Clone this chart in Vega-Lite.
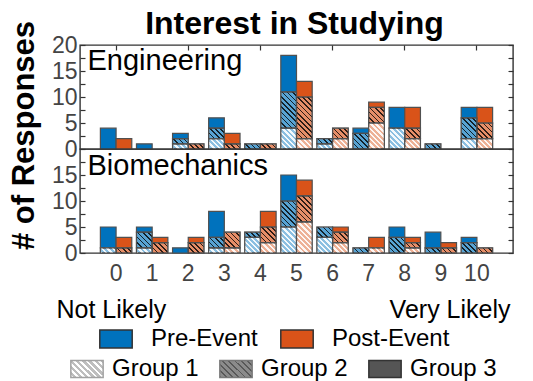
{
 "$schema": "https://vega.github.io/schema/vega-lite/v6.json",
 "padding": {"left": 7, "top": 7, "right": 5, "bottom": 5},
 "params": [
  {"name": "g1", "value": [null,
   {"gradient":"linear","x1":0,"y1":1,"x2":1.2,"y2":0.603,"stops":[{"offset":0,"color":"#ffffffe6"},{"offset":0.113,"color":"#ffffffe6"},{"offset":0.113,"color":"#ffffff00"},{"offset":0.25,"color":"#ffffff00"},{"offset":0.25,"color":"#ffffffe6"},{"offset":0.363,"color":"#ffffffe6"},{"offset":0.363,"color":"#ffffff00"},{"offset":0.5,"color":"#ffffff00"},{"offset":0.5,"color":"#ffffffe6"},{"offset":0.613,"color":"#ffffffe6"},{"offset":0.613,"color":"#ffffff00"},{"offset":0.75,"color":"#ffffff00"},{"offset":0.75,"color":"#ffffffe6"},{"offset":0.863,"color":"#ffffffe6"},{"offset":0.863,"color":"#ffffff00"}]},
   {"gradient":"linear","x1":0,"y1":1,"x2":1.155,"y2":0.235,"stops":[{"offset":0,"color":"#ffffffe6"},{"offset":0.09,"color":"#ffffffe6"},{"offset":0.09,"color":"#ffffff00"},{"offset":0.2,"color":"#ffffff00"},{"offset":0.2,"color":"#ffffffe6"},{"offset":0.29,"color":"#ffffffe6"},{"offset":0.29,"color":"#ffffff00"},{"offset":0.4,"color":"#ffffff00"},{"offset":0.4,"color":"#ffffffe6"},{"offset":0.49,"color":"#ffffffe6"},{"offset":0.49,"color":"#ffffff00"},{"offset":0.6,"color":"#ffffff00"},{"offset":0.6,"color":"#ffffffe6"},{"offset":0.69,"color":"#ffffffe6"},{"offset":0.69,"color":"#ffffff00"},{"offset":0.8,"color":"#ffffff00"},{"offset":0.8,"color":"#ffffffe6"},{"offset":0.89,"color":"#ffffffe6"},{"offset":0.89,"color":"#ffffff00"}]},
   {"gradient":"linear","x1":0,"y1":1,"x2":1.003,"y2":0.003,"stops":[{"offset":0,"color":"#ffffffe6"},{"offset":0.075,"color":"#ffffffe6"},{"offset":0.075,"color":"#ffffff00"},{"offset":0.167,"color":"#ffffff00"},{"offset":0.167,"color":"#ffffffe6"},{"offset":0.242,"color":"#ffffffe6"},{"offset":0.242,"color":"#ffffff00"},{"offset":0.333,"color":"#ffffff00"},{"offset":0.333,"color":"#ffffffe6"},{"offset":0.408,"color":"#ffffffe6"},{"offset":0.408,"color":"#ffffff00"},{"offset":0.5,"color":"#ffffff00"},{"offset":0.5,"color":"#ffffffe6"},{"offset":0.575,"color":"#ffffffe6"},{"offset":0.575,"color":"#ffffff00"},{"offset":0.667,"color":"#ffffff00"},{"offset":0.667,"color":"#ffffffe6"},{"offset":0.742,"color":"#ffffffe6"},{"offset":0.742,"color":"#ffffff00"},{"offset":0.833,"color":"#ffffff00"},{"offset":0.833,"color":"#ffffffe6"},{"offset":0.908,"color":"#ffffffe6"},{"offset":0.908,"color":"#ffffff00"}]},
   {"gradient":"linear","x1":0,"y1":1,"x2":0.844,"y2":-0.118,"stops":[{"offset":0,"color":"#ffffffe6"},{"offset":0.064,"color":"#ffffffe6"},{"offset":0.064,"color":"#ffffff00"},{"offset":0.143,"color":"#ffffff00"},{"offset":0.143,"color":"#ffffffe6"},{"offset":0.207,"color":"#ffffffe6"},{"offset":0.207,"color":"#ffffff00"},{"offset":0.286,"color":"#ffffff00"},{"offset":0.286,"color":"#ffffffe6"},{"offset":0.35,"color":"#ffffffe6"},{"offset":0.35,"color":"#ffffff00"},{"offset":0.429,"color":"#ffffff00"},{"offset":0.429,"color":"#ffffffe6"},{"offset":0.493,"color":"#ffffffe6"},{"offset":0.493,"color":"#ffffff00"},{"offset":0.571,"color":"#ffffff00"},{"offset":0.571,"color":"#ffffffe6"},{"offset":0.636,"color":"#ffffffe6"},{"offset":0.636,"color":"#ffffff00"},{"offset":0.714,"color":"#ffffff00"},{"offset":0.714,"color":"#ffffffe6"},{"offset":0.779,"color":"#ffffffe6"},{"offset":0.779,"color":"#ffffff00"},{"offset":0.857,"color":"#ffffff00"},{"offset":0.857,"color":"#ffffffe6"},{"offset":0.921,"color":"#ffffffe6"},{"offset":0.921,"color":"#ffffff00"}]},
   {"gradient":"linear","x1":0,"y1":1,"x2":0.71,"y2":-0.175,"stops":[{"offset":0,"color":"#ffffffe6"},{"offset":0.056,"color":"#ffffffe6"},{"offset":0.056,"color":"#ffffff00"},{"offset":0.125,"color":"#ffffff00"},{"offset":0.125,"color":"#ffffffe6"},{"offset":0.181,"color":"#ffffffe6"},{"offset":0.181,"color":"#ffffff00"},{"offset":0.25,"color":"#ffffff00"},{"offset":0.25,"color":"#ffffffe6"},{"offset":0.306,"color":"#ffffffe6"},{"offset":0.306,"color":"#ffffff00"},{"offset":0.375,"color":"#ffffff00"},{"offset":0.375,"color":"#ffffffe6"},{"offset":0.431,"color":"#ffffffe6"},{"offset":0.431,"color":"#ffffff00"},{"offset":0.5,"color":"#ffffff00"},{"offset":0.5,"color":"#ffffffe6"},{"offset":0.556,"color":"#ffffffe6"},{"offset":0.556,"color":"#ffffff00"},{"offset":0.625,"color":"#ffffff00"},{"offset":0.625,"color":"#ffffffe6"},{"offset":0.681,"color":"#ffffffe6"},{"offset":0.681,"color":"#ffffff00"},{"offset":0.75,"color":"#ffffff00"},{"offset":0.75,"color":"#ffffffe6"},{"offset":0.806,"color":"#ffffffe6"},{"offset":0.806,"color":"#ffffff00"},{"offset":0.875,"color":"#ffffff00"},{"offset":0.875,"color":"#ffffffe6"},{"offset":0.931,"color":"#ffffffe6"},{"offset":0.931,"color":"#ffffff00"}]},
   {"gradient":"linear","x1":0,"y1":1,"x2":0.604,"y2":-0.2,"stops":[{"offset":0,"color":"#ffffffe6"},{"offset":0.05,"color":"#ffffffe6"},{"offset":0.05,"color":"#ffffff00"},{"offset":0.111,"color":"#ffffff00"},{"offset":0.111,"color":"#ffffffe6"},{"offset":0.161,"color":"#ffffffe6"},{"offset":0.161,"color":"#ffffff00"},{"offset":0.222,"color":"#ffffff00"},{"offset":0.222,"color":"#ffffffe6"},{"offset":0.272,"color":"#ffffffe6"},{"offset":0.272,"color":"#ffffff00"},{"offset":0.333,"color":"#ffffff00"},{"offset":0.333,"color":"#ffffffe6"},{"offset":0.383,"color":"#ffffffe6"},{"offset":0.383,"color":"#ffffff00"},{"offset":0.444,"color":"#ffffff00"},{"offset":0.444,"color":"#ffffffe6"},{"offset":0.494,"color":"#ffffffe6"},{"offset":0.494,"color":"#ffffff00"},{"offset":0.556,"color":"#ffffff00"},{"offset":0.556,"color":"#ffffffe6"},{"offset":0.606,"color":"#ffffffe6"},{"offset":0.606,"color":"#ffffff00"},{"offset":0.667,"color":"#ffffff00"},{"offset":0.667,"color":"#ffffffe6"},{"offset":0.717,"color":"#ffffffe6"},{"offset":0.717,"color":"#ffffff00"},{"offset":0.778,"color":"#ffffff00"},{"offset":0.778,"color":"#ffffffe6"},{"offset":0.828,"color":"#ffffffe6"},{"offset":0.828,"color":"#ffffff00"},{"offset":0.889,"color":"#ffffff00"},{"offset":0.889,"color":"#ffffffe6"},{"offset":0.939,"color":"#ffffffe6"},{"offset":0.939,"color":"#ffffff00"}]}
  ]},
  {"name": "g2", "value": [null,
   {"gradient":"linear","x1":0,"y1":1,"x2":1.2,"y2":0.603,"stops":[{"offset":0,"color":"#000000cc"},{"offset":0.075,"color":"#000000cc"},{"offset":0.075,"color":"#00000000"},{"offset":0.25,"color":"#00000000"},{"offset":0.25,"color":"#000000cc"},{"offset":0.325,"color":"#000000cc"},{"offset":0.325,"color":"#00000000"},{"offset":0.5,"color":"#00000000"},{"offset":0.5,"color":"#000000cc"},{"offset":0.575,"color":"#000000cc"},{"offset":0.575,"color":"#00000000"},{"offset":0.75,"color":"#00000000"},{"offset":0.75,"color":"#000000cc"},{"offset":0.825,"color":"#000000cc"},{"offset":0.825,"color":"#00000000"}]},
   {"gradient":"linear","x1":0,"y1":1,"x2":1.155,"y2":0.235,"stops":[{"offset":0,"color":"#000000cc"},{"offset":0.06,"color":"#000000cc"},{"offset":0.06,"color":"#00000000"},{"offset":0.2,"color":"#00000000"},{"offset":0.2,"color":"#000000cc"},{"offset":0.26,"color":"#000000cc"},{"offset":0.26,"color":"#00000000"},{"offset":0.4,"color":"#00000000"},{"offset":0.4,"color":"#000000cc"},{"offset":0.46,"color":"#000000cc"},{"offset":0.46,"color":"#00000000"},{"offset":0.6,"color":"#00000000"},{"offset":0.6,"color":"#000000cc"},{"offset":0.66,"color":"#000000cc"},{"offset":0.66,"color":"#00000000"},{"offset":0.8,"color":"#00000000"},{"offset":0.8,"color":"#000000cc"},{"offset":0.86,"color":"#000000cc"},{"offset":0.86,"color":"#00000000"}]},
   {"gradient":"linear","x1":0,"y1":1,"x2":1.003,"y2":0.003,"stops":[{"offset":0,"color":"#000000cc"},{"offset":0.05,"color":"#000000cc"},{"offset":0.05,"color":"#00000000"},{"offset":0.167,"color":"#00000000"},{"offset":0.167,"color":"#000000cc"},{"offset":0.217,"color":"#000000cc"},{"offset":0.217,"color":"#00000000"},{"offset":0.333,"color":"#00000000"},{"offset":0.333,"color":"#000000cc"},{"offset":0.383,"color":"#000000cc"},{"offset":0.383,"color":"#00000000"},{"offset":0.5,"color":"#00000000"},{"offset":0.5,"color":"#000000cc"},{"offset":0.55,"color":"#000000cc"},{"offset":0.55,"color":"#00000000"},{"offset":0.667,"color":"#00000000"},{"offset":0.667,"color":"#000000cc"},{"offset":0.717,"color":"#000000cc"},{"offset":0.717,"color":"#00000000"},{"offset":0.833,"color":"#00000000"},{"offset":0.833,"color":"#000000cc"},{"offset":0.883,"color":"#000000cc"},{"offset":0.883,"color":"#00000000"}]},
   {"gradient":"linear","x1":0,"y1":1,"x2":0.844,"y2":-0.118,"stops":[{"offset":0,"color":"#000000cc"},{"offset":0.043,"color":"#000000cc"},{"offset":0.043,"color":"#00000000"},{"offset":0.143,"color":"#00000000"},{"offset":0.143,"color":"#000000cc"},{"offset":0.186,"color":"#000000cc"},{"offset":0.186,"color":"#00000000"},{"offset":0.286,"color":"#00000000"},{"offset":0.286,"color":"#000000cc"},{"offset":0.329,"color":"#000000cc"},{"offset":0.329,"color":"#00000000"},{"offset":0.429,"color":"#00000000"},{"offset":0.429,"color":"#000000cc"},{"offset":0.471,"color":"#000000cc"},{"offset":0.471,"color":"#00000000"},{"offset":0.571,"color":"#00000000"},{"offset":0.571,"color":"#000000cc"},{"offset":0.614,"color":"#000000cc"},{"offset":0.614,"color":"#00000000"},{"offset":0.714,"color":"#00000000"},{"offset":0.714,"color":"#000000cc"},{"offset":0.757,"color":"#000000cc"},{"offset":0.757,"color":"#00000000"},{"offset":0.857,"color":"#00000000"},{"offset":0.857,"color":"#000000cc"},{"offset":0.9,"color":"#000000cc"},{"offset":0.9,"color":"#00000000"}]},
   {"gradient":"linear","x1":0,"y1":1,"x2":0.71,"y2":-0.175,"stops":[{"offset":0,"color":"#000000cc"},{"offset":0.038,"color":"#000000cc"},{"offset":0.038,"color":"#00000000"},{"offset":0.125,"color":"#00000000"},{"offset":0.125,"color":"#000000cc"},{"offset":0.163,"color":"#000000cc"},{"offset":0.163,"color":"#00000000"},{"offset":0.25,"color":"#00000000"},{"offset":0.25,"color":"#000000cc"},{"offset":0.288,"color":"#000000cc"},{"offset":0.288,"color":"#00000000"},{"offset":0.375,"color":"#00000000"},{"offset":0.375,"color":"#000000cc"},{"offset":0.413,"color":"#000000cc"},{"offset":0.413,"color":"#00000000"},{"offset":0.5,"color":"#00000000"},{"offset":0.5,"color":"#000000cc"},{"offset":0.538,"color":"#000000cc"},{"offset":0.538,"color":"#00000000"},{"offset":0.625,"color":"#00000000"},{"offset":0.625,"color":"#000000cc"},{"offset":0.663,"color":"#000000cc"},{"offset":0.663,"color":"#00000000"},{"offset":0.75,"color":"#00000000"},{"offset":0.75,"color":"#000000cc"},{"offset":0.788,"color":"#000000cc"},{"offset":0.788,"color":"#00000000"},{"offset":0.875,"color":"#00000000"},{"offset":0.875,"color":"#000000cc"},{"offset":0.913,"color":"#000000cc"},{"offset":0.913,"color":"#00000000"}]},
   null,
   {"gradient":"linear","x1":0,"y1":1,"x2":0.52,"y2":-0.207,"stops":[{"offset":0,"color":"#000000cc"},{"offset":0.03,"color":"#000000cc"},{"offset":0.03,"color":"#00000000"},{"offset":0.1,"color":"#00000000"},{"offset":0.1,"color":"#000000cc"},{"offset":0.13,"color":"#000000cc"},{"offset":0.13,"color":"#00000000"},{"offset":0.2,"color":"#00000000"},{"offset":0.2,"color":"#000000cc"},{"offset":0.23,"color":"#000000cc"},{"offset":0.23,"color":"#00000000"},{"offset":0.3,"color":"#00000000"},{"offset":0.3,"color":"#000000cc"},{"offset":0.33,"color":"#000000cc"},{"offset":0.33,"color":"#00000000"},{"offset":0.4,"color":"#00000000"},{"offset":0.4,"color":"#000000cc"},{"offset":0.43,"color":"#000000cc"},{"offset":0.43,"color":"#00000000"},{"offset":0.5,"color":"#00000000"},{"offset":0.5,"color":"#000000cc"},{"offset":0.53,"color":"#000000cc"},{"offset":0.53,"color":"#00000000"},{"offset":0.6,"color":"#00000000"},{"offset":0.6,"color":"#000000cc"},{"offset":0.63,"color":"#000000cc"},{"offset":0.63,"color":"#00000000"},{"offset":0.7,"color":"#00000000"},{"offset":0.7,"color":"#000000cc"},{"offset":0.73,"color":"#000000cc"},{"offset":0.73,"color":"#00000000"},{"offset":0.8,"color":"#00000000"},{"offset":0.8,"color":"#000000cc"},{"offset":0.83,"color":"#000000cc"},{"offset":0.83,"color":"#00000000"},{"offset":0.9,"color":"#00000000"},{"offset":0.9,"color":"#000000cc"},{"offset":0.93,"color":"#000000cc"},{"offset":0.93,"color":"#00000000"}]},
   {"gradient":"linear","x1":0,"y1":1,"x2":0.455,"y2":-0.206,"stops":[{"offset":0,"color":"#000000cc"},{"offset":0.027,"color":"#000000cc"},{"offset":0.027,"color":"#00000000"},{"offset":0.091,"color":"#00000000"},{"offset":0.091,"color":"#000000cc"},{"offset":0.118,"color":"#000000cc"},{"offset":0.118,"color":"#00000000"},{"offset":0.182,"color":"#00000000"},{"offset":0.182,"color":"#000000cc"},{"offset":0.209,"color":"#000000cc"},{"offset":0.209,"color":"#00000000"},{"offset":0.273,"color":"#00000000"},{"offset":0.273,"color":"#000000cc"},{"offset":0.3,"color":"#000000cc"},{"offset":0.3,"color":"#00000000"},{"offset":0.364,"color":"#00000000"},{"offset":0.364,"color":"#000000cc"},{"offset":0.391,"color":"#000000cc"},{"offset":0.391,"color":"#00000000"},{"offset":0.455,"color":"#00000000"},{"offset":0.455,"color":"#000000cc"},{"offset":0.482,"color":"#000000cc"},{"offset":0.482,"color":"#00000000"},{"offset":0.545,"color":"#00000000"},{"offset":0.545,"color":"#000000cc"},{"offset":0.573,"color":"#000000cc"},{"offset":0.573,"color":"#00000000"},{"offset":0.636,"color":"#00000000"},{"offset":0.636,"color":"#000000cc"},{"offset":0.664,"color":"#000000cc"},{"offset":0.664,"color":"#00000000"},{"offset":0.727,"color":"#00000000"},{"offset":0.727,"color":"#000000cc"},{"offset":0.755,"color":"#000000cc"},{"offset":0.755,"color":"#00000000"},{"offset":0.818,"color":"#00000000"},{"offset":0.818,"color":"#000000cc"},{"offset":0.845,"color":"#000000cc"},{"offset":0.845,"color":"#00000000"},{"offset":0.909,"color":"#00000000"},{"offset":0.909,"color":"#000000cc"},{"offset":0.936,"color":"#000000cc"},{"offset":0.936,"color":"#00000000"}]}
  ]},
  {"name": "lg1", "value": {"gradient":"linear","x1":0,"y1":1,"x2":1.194,"y2":0.366,"stops":[{"offset":0,"color":"#ffffff"},{"offset":0.056,"color":"#ffffff"},{"offset":0.056,"color":"#707070"},{"offset":0.125,"color":"#707070"},{"offset":0.125,"color":"#ffffff"},{"offset":0.181,"color":"#ffffff"},{"offset":0.181,"color":"#707070"},{"offset":0.25,"color":"#707070"},{"offset":0.25,"color":"#ffffff"},{"offset":0.306,"color":"#ffffff"},{"offset":0.306,"color":"#707070"},{"offset":0.375,"color":"#707070"},{"offset":0.375,"color":"#ffffff"},{"offset":0.431,"color":"#ffffff"},{"offset":0.431,"color":"#707070"},{"offset":0.5,"color":"#707070"},{"offset":0.5,"color":"#ffffff"},{"offset":0.556,"color":"#ffffff"},{"offset":0.556,"color":"#707070"},{"offset":0.625,"color":"#707070"},{"offset":0.625,"color":"#ffffff"},{"offset":0.681,"color":"#ffffff"},{"offset":0.681,"color":"#707070"},{"offset":0.75,"color":"#707070"},{"offset":0.75,"color":"#ffffff"},{"offset":0.806,"color":"#ffffff"},{"offset":0.806,"color":"#707070"},{"offset":0.875,"color":"#707070"},{"offset":0.875,"color":"#ffffff"},{"offset":0.931,"color":"#ffffff"},{"offset":0.931,"color":"#707070"}]}},
  {"name": "lg2", "value": {"gradient":"linear","x1":0,"y1":1,"x2":1.194,"y2":0.366,"stops":[{"offset":0,"color":"#000000"},{"offset":0.038,"color":"#000000"},{"offset":0.038,"color":"#4e4e4e"},{"offset":0.125,"color":"#4e4e4e"},{"offset":0.125,"color":"#000000"},{"offset":0.163,"color":"#000000"},{"offset":0.163,"color":"#4e4e4e"},{"offset":0.25,"color":"#4e4e4e"},{"offset":0.25,"color":"#000000"},{"offset":0.288,"color":"#000000"},{"offset":0.288,"color":"#4e4e4e"},{"offset":0.375,"color":"#4e4e4e"},{"offset":0.375,"color":"#000000"},{"offset":0.413,"color":"#000000"},{"offset":0.413,"color":"#4e4e4e"},{"offset":0.5,"color":"#4e4e4e"},{"offset":0.5,"color":"#000000"},{"offset":0.538,"color":"#000000"},{"offset":0.538,"color":"#4e4e4e"},{"offset":0.625,"color":"#4e4e4e"},{"offset":0.625,"color":"#000000"},{"offset":0.663,"color":"#000000"},{"offset":0.663,"color":"#4e4e4e"},{"offset":0.75,"color":"#4e4e4e"},{"offset":0.75,"color":"#000000"},{"offset":0.788,"color":"#000000"},{"offset":0.788,"color":"#4e4e4e"},{"offset":0.875,"color":"#4e4e4e"},{"offset":0.875,"color":"#000000"},{"offset":0.913,"color":"#000000"},{"offset":0.913,"color":"#4e4e4e"}]}}
 ],
 "title": {"text": "Interest in Studying", "fontSize": 32, "fontWeight": "bold", "color": "#000000", "anchor": "middle", "frame": "group", "baseline": "alphabetic", "offset": -46, "dx": -2},
 "config": {
  "font": "Liberation Sans",
  "view": {"stroke": "#333333", "strokeWidth": 1.4},
  "axis": {"labelFont": "Liberation Sans", "titleFont": "Liberation Sans", "labelColor": "#444444", "labelFontSize": 23, "tickColor": "#333333", "tickWidth": 1.2, "domain": false, "grid": false},
  "legend": {"labelFont": "Liberation Sans"},
  "title": {"font": "Liberation Sans"}
 },
 "datasets": {"survey": [
  {"panel":"Engineering","score":0,"event":"Pre-Event","group":"Group 3","count":4},
  {"panel":"Engineering","score":1,"event":"Pre-Event","group":"Group 3","count":1},
  {"panel":"Engineering","score":2,"event":"Pre-Event","group":"Group 1","count":1},
  {"panel":"Engineering","score":2,"event":"Pre-Event","group":"Group 2","count":1},
  {"panel":"Engineering","score":2,"event":"Pre-Event","group":"Group 3","count":1},
  {"panel":"Engineering","score":3,"event":"Pre-Event","group":"Group 1","count":2},
  {"panel":"Engineering","score":3,"event":"Pre-Event","group":"Group 2","count":2},
  {"panel":"Engineering","score":3,"event":"Pre-Event","group":"Group 3","count":2},
  {"panel":"Engineering","score":4,"event":"Pre-Event","group":"Group 2","count":1},
  {"panel":"Engineering","score":5,"event":"Pre-Event","group":"Group 1","count":4},
  {"panel":"Engineering","score":5,"event":"Pre-Event","group":"Group 2","count":7},
  {"panel":"Engineering","score":5,"event":"Pre-Event","group":"Group 3","count":7},
  {"panel":"Engineering","score":6,"event":"Pre-Event","group":"Group 1","count":1},
  {"panel":"Engineering","score":6,"event":"Pre-Event","group":"Group 2","count":1},
  {"panel":"Engineering","score":7,"event":"Pre-Event","group":"Group 2","count":3},
  {"panel":"Engineering","score":7,"event":"Pre-Event","group":"Group 3","count":1},
  {"panel":"Engineering","score":8,"event":"Pre-Event","group":"Group 1","count":4},
  {"panel":"Engineering","score":8,"event":"Pre-Event","group":"Group 3","count":4},
  {"panel":"Engineering","score":9,"event":"Pre-Event","group":"Group 2","count":1},
  {"panel":"Engineering","score":10,"event":"Pre-Event","group":"Group 1","count":2},
  {"panel":"Engineering","score":10,"event":"Pre-Event","group":"Group 2","count":4},
  {"panel":"Engineering","score":10,"event":"Pre-Event","group":"Group 3","count":2},
  {"panel":"Engineering","score":0,"event":"Post-Event","group":"Group 3","count":2},
  {"panel":"Engineering","score":2,"event":"Post-Event","group":"Group 2","count":1},
  {"panel":"Engineering","score":3,"event":"Post-Event","group":"Group 2","count":1},
  {"panel":"Engineering","score":3,"event":"Post-Event","group":"Group 3","count":2},
  {"panel":"Engineering","score":4,"event":"Post-Event","group":"Group 2","count":1},
  {"panel":"Engineering","score":5,"event":"Post-Event","group":"Group 1","count":2},
  {"panel":"Engineering","score":5,"event":"Post-Event","group":"Group 2","count":8},
  {"panel":"Engineering","score":5,"event":"Post-Event","group":"Group 3","count":3},
  {"panel":"Engineering","score":6,"event":"Post-Event","group":"Group 1","count":2},
  {"panel":"Engineering","score":6,"event":"Post-Event","group":"Group 2","count":2},
  {"panel":"Engineering","score":7,"event":"Post-Event","group":"Group 1","count":5},
  {"panel":"Engineering","score":7,"event":"Post-Event","group":"Group 2","count":3},
  {"panel":"Engineering","score":7,"event":"Post-Event","group":"Group 3","count":1},
  {"panel":"Engineering","score":8,"event":"Post-Event","group":"Group 1","count":2},
  {"panel":"Engineering","score":8,"event":"Post-Event","group":"Group 2","count":2},
  {"panel":"Engineering","score":8,"event":"Post-Event","group":"Group 3","count":4},
  {"panel":"Engineering","score":10,"event":"Post-Event","group":"Group 1","count":2},
  {"panel":"Engineering","score":10,"event":"Post-Event","group":"Group 2","count":3},
  {"panel":"Engineering","score":10,"event":"Post-Event","group":"Group 3","count":3},
  {"panel":"Biomechanics","score":0,"event":"Pre-Event","group":"Group 1","count":1},
  {"panel":"Biomechanics","score":0,"event":"Pre-Event","group":"Group 3","count":4},
  {"panel":"Biomechanics","score":1,"event":"Pre-Event","group":"Group 1","count":1},
  {"panel":"Biomechanics","score":1,"event":"Pre-Event","group":"Group 2","count":3},
  {"panel":"Biomechanics","score":1,"event":"Pre-Event","group":"Group 3","count":1},
  {"panel":"Biomechanics","score":2,"event":"Pre-Event","group":"Group 3","count":1},
  {"panel":"Biomechanics","score":3,"event":"Pre-Event","group":"Group 1","count":1},
  {"panel":"Biomechanics","score":3,"event":"Pre-Event","group":"Group 2","count":2},
  {"panel":"Biomechanics","score":3,"event":"Pre-Event","group":"Group 3","count":5},
  {"panel":"Biomechanics","score":4,"event":"Pre-Event","group":"Group 1","count":3},
  {"panel":"Biomechanics","score":4,"event":"Pre-Event","group":"Group 2","count":1},
  {"panel":"Biomechanics","score":5,"event":"Pre-Event","group":"Group 1","count":5},
  {"panel":"Biomechanics","score":5,"event":"Pre-Event","group":"Group 2","count":5},
  {"panel":"Biomechanics","score":5,"event":"Pre-Event","group":"Group 3","count":5},
  {"panel":"Biomechanics","score":6,"event":"Pre-Event","group":"Group 1","count":3},
  {"panel":"Biomechanics","score":6,"event":"Pre-Event","group":"Group 2","count":2},
  {"panel":"Biomechanics","score":7,"event":"Pre-Event","group":"Group 2","count":1},
  {"panel":"Biomechanics","score":8,"event":"Pre-Event","group":"Group 2","count":3},
  {"panel":"Biomechanics","score":8,"event":"Pre-Event","group":"Group 3","count":2},
  {"panel":"Biomechanics","score":9,"event":"Pre-Event","group":"Group 2","count":1},
  {"panel":"Biomechanics","score":9,"event":"Pre-Event","group":"Group 3","count":3},
  {"panel":"Biomechanics","score":10,"event":"Pre-Event","group":"Group 2","count":2},
  {"panel":"Biomechanics","score":10,"event":"Pre-Event","group":"Group 3","count":1},
  {"panel":"Biomechanics","score":0,"event":"Post-Event","group":"Group 2","count":1},
  {"panel":"Biomechanics","score":0,"event":"Post-Event","group":"Group 3","count":2},
  {"panel":"Biomechanics","score":1,"event":"Post-Event","group":"Group 2","count":2},
  {"panel":"Biomechanics","score":1,"event":"Post-Event","group":"Group 3","count":1},
  {"panel":"Biomechanics","score":2,"event":"Post-Event","group":"Group 2","count":2},
  {"panel":"Biomechanics","score":2,"event":"Post-Event","group":"Group 3","count":1},
  {"panel":"Biomechanics","score":3,"event":"Post-Event","group":"Group 1","count":1},
  {"panel":"Biomechanics","score":3,"event":"Post-Event","group":"Group 2","count":3},
  {"panel":"Biomechanics","score":4,"event":"Post-Event","group":"Group 1","count":2},
  {"panel":"Biomechanics","score":4,"event":"Post-Event","group":"Group 2","count":3},
  {"panel":"Biomechanics","score":4,"event":"Post-Event","group":"Group 3","count":3},
  {"panel":"Biomechanics","score":5,"event":"Post-Event","group":"Group 1","count":6},
  {"panel":"Biomechanics","score":5,"event":"Post-Event","group":"Group 2","count":5},
  {"panel":"Biomechanics","score":5,"event":"Post-Event","group":"Group 3","count":3},
  {"panel":"Biomechanics","score":6,"event":"Post-Event","group":"Group 1","count":2},
  {"panel":"Biomechanics","score":6,"event":"Post-Event","group":"Group 2","count":2},
  {"panel":"Biomechanics","score":6,"event":"Post-Event","group":"Group 3","count":1},
  {"panel":"Biomechanics","score":7,"event":"Post-Event","group":"Group 1","count":1},
  {"panel":"Biomechanics","score":7,"event":"Post-Event","group":"Group 3","count":2},
  {"panel":"Biomechanics","score":8,"event":"Post-Event","group":"Group 1","count":1},
  {"panel":"Biomechanics","score":8,"event":"Post-Event","group":"Group 2","count":1},
  {"panel":"Biomechanics","score":8,"event":"Post-Event","group":"Group 3","count":1},
  {"panel":"Biomechanics","score":9,"event":"Post-Event","group":"Group 2","count":1},
  {"panel":"Biomechanics","score":9,"event":"Post-Event","group":"Group 3","count":1},
  {"panel":"Biomechanics","score":10,"event":"Post-Event","group":"Group 2","count":1}
 ]},
 "spacing": 0,
 "bounds": "flush",
 "resolve": {"scale": {"fill": "shared", "opacity": "shared"}},
 "vconcat": [
  {
   "width": 433, "height": 104,
   "data": {"name": "survey"},
   "transform": [
    {"filter": "datum.panel === 'Engineering'"},
    {"stack": "count", "groupby": ["score", "event"], "sort": [{"field": "group", "order": "ascending"}], "as": ["y0", "y1"]}
   ],
   "resolve": {"axis": {"x": "independent", "y": "independent"}},
   "layer": [
    {
     "mark": {"type": "bar", "stroke": "#505050", "strokeWidth": 1.2},
     "encoding": {
      "x": {"field": "score", "type": "ordinal", "scale": {"domain": [0,1,2,3,4,5,6,7,8,9,10], "paddingInner": 0.13, "paddingOuter": 0.565},
            "axis": {"orient": "top", "labels": false, "title": null, "values": [0,2,4,6,8,10], "tickSize": -5}},
      "xOffset": {"field": "event", "type": "nominal", "scale": {"domain": ["Pre-Event", "Post-Event"], "paddingInner": 0, "paddingOuter": 0}},
      "y": {"field": "y0", "type": "quantitative", "scale": {"domain": [0, 20], "nice": false},
            "axis": {"orient": "left", "values": [0,2.5,5,7.5,10,12.5,15,17.5,20], "labelExpr": "datum.value % 5 === 0 ? datum.label : ''", "tickSize": -5, "labelPadding": 8,
                     "title": "# of Responses", "titleFontSize": 31, "titleFontWeight": "bold", "titleColor": "#000000", "titleX": -47, "titleY": 90, "titleBaseline": "alphabetic", "titleAlign": "center", "titleAngle": -90}},
      "y2": {"field": "y1"},
      "fill": {"field": "event", "type": "nominal", "scale": {"domain": ["Pre-Event", "Post-Event"], "range": ["#0072BD", "#D95319"]},
               "legend": {"orient": "none", "legendX": 24, "legendY": 282, "direction": "horizontal", "title": null, "symbolType": "M-1.8,-1H1.8V1H-1.8Z", "symbolSize": 324, "symbolStrokeColor": "#333333", "symbolStrokeWidth": 1.5, "labelFontSize": 24, "labelColor": "#000000", "labelOffset": 23, "columnPadding": 19}},
      "opacity": {"field": "group", "type": "nominal", "scale": {"type": "ordinal", "domain": ["Group 1", "Group 2", "Group 3"], "range": [0.45, 0.65, 1]},
               "legend": {"orient": "none", "legendX": -5, "legendY": 312, "direction": "horizontal", "title": null, "symbolType": "M-1.9,-1H1.9V1H-1.9Z", "symbolSize": 289, "symbolStrokeColor": "#333333", "symbolStrokeWidth": 1.5, "labelFontSize": 24, "labelColor": "#000000", "labelOffset": 13, "columnPadding": 17,
                          "symbolFillColor": {"expr": "datum.value === 'Group 1' ? lg1 : datum.value === 'Group 2' ? lg2 : '#555555'"}}}
     }
    },
    {
     "transform": [{"filter": "datum.group !== 'Group 3'"}],
     "mark": {"type": "bar", "stroke": "#505050", "strokeWidth": 1.2},
     "encoding": {
      "x": {"field": "score", "type": "ordinal", "axis": null},
      "xOffset": {"field": "event", "type": "nominal"},
      "y": {"field": "y0", "type": "quantitative", "axis": {"orient": "right", "labels": false, "values": [0,2.5,5,7.5,10,12.5,15,17.5,20], "tickSize": -5,
            "title": "Engineering", "titleAngle": 0, "titleX": -426, "titleY": 24, "titleAlign": "left", "titleBaseline": "alphabetic", "titleFontSize": 29, "titleFontWeight": "normal", "titleColor": "#000000"}},
      "y2": {"field": "y1"},
      "fill": {"value": {"expr": "datum.group === 'Group 1' ? g1[datum.count] : g2[datum.count]"}}
     }
    }
   ]
  },
  {
   "width": 433, "height": 104,
   "data": {"name": "survey"},
   "transform": [
    {"filter": "datum.panel === 'Biomechanics'"},
    {"stack": "count", "groupby": ["score", "event"], "sort": [{"field": "group", "order": "ascending"}], "as": ["y0", "y1"]}
   ],
   "resolve": {"axis": {"x": "independent", "y": "independent"}},
   "layer": [
    {
     "mark": {"type": "bar", "stroke": "#505050", "strokeWidth": 1.2},
     "encoding": {
      "x": {"field": "score", "type": "ordinal", "scale": {"domain": [0,1,2,3,4,5,6,7,8,9,10], "paddingInner": 0.13, "paddingOuter": 0.565},
            "axis": {"orient": "bottom", "labelAngle": 0, "tickSize": -5, "labelPadding": 14, "tickOpacity": {"condition": {"test": "datum.value % 2 === 1", "value": 0}, "value": 1},
                     "title": "Not Likely", "titleFontSize": 25, "titleFontWeight": "normal", "titleColor": "#000000", "titleX": -24, "titleY": 64, "titleAlign": "left", "titleBaseline": "alphabetic"}},
      "xOffset": {"field": "event", "type": "nominal", "scale": {"domain": ["Pre-Event", "Post-Event"], "paddingInner": 0, "paddingOuter": 0}},
      "y": {"field": "y0", "type": "quantitative", "scale": {"domain": [0, 20], "nice": false},
            "axis": {"orient": "left", "values": [0,2.5,5,7.5,10,12.5,15,17.5], "labelExpr": "datum.value % 5 === 0 ? datum.label : ''", "tickSize": -5, "labelPadding": 8, "title": null}},
      "y2": {"field": "y1"},
      "fill": {"field": "event", "type": "nominal", "scale": {"domain": ["Pre-Event", "Post-Event"], "range": ["#0072BD", "#D95319"]},
               "legend": {"orient": "none", "legendX": 24, "legendY": 282, "direction": "horizontal", "title": null, "symbolType": "M-1.8,-1H1.8V1H-1.8Z", "symbolSize": 324, "symbolStrokeColor": "#333333", "symbolStrokeWidth": 1.5, "labelFontSize": 24, "labelColor": "#000000", "labelOffset": 23, "columnPadding": 19}},
      "opacity": {"field": "group", "type": "nominal", "scale": {"type": "ordinal", "domain": ["Group 1", "Group 2", "Group 3"], "range": [0.45, 0.65, 1]},
               "legend": {"orient": "none", "legendX": -5, "legendY": 312, "direction": "horizontal", "title": null, "symbolType": "M-1.9,-1H1.9V1H-1.9Z", "symbolSize": 289, "symbolStrokeColor": "#333333", "symbolStrokeWidth": 1.5, "labelFontSize": 24, "labelColor": "#000000", "labelOffset": 13, "columnPadding": 17,
                          "symbolFillColor": {"expr": "datum.value === 'Group 1' ? lg1 : datum.value === 'Group 2' ? lg2 : '#555555'"}}}
     }
    },
    {
     "transform": [{"filter": "datum.group !== 'Group 3'"}],
     "mark": {"type": "bar", "stroke": "#505050", "strokeWidth": 1.2},
     "encoding": {
      "x": {"field": "score", "type": "ordinal", "axis": {"orient": "bottom", "labels": false, "ticks": false, "domain": false, "title": "Very Likely", "titleFontSize": 25, "titleFontWeight": "normal", "titleColor": "#000000", "titleX": 430, "titleY": 64, "titleAlign": "right", "titleBaseline": "alphabetic"}},
      "xOffset": {"field": "event", "type": "nominal"},
      "y": {"field": "y0", "type": "quantitative", "axis": {"orient": "right", "labels": false, "values": [0,2.5,5,7.5,10,12.5,15,17.5], "tickSize": -5,
            "title": "Biomechanics", "titleAngle": 0, "titleX": -426, "titleY": 25, "titleAlign": "left", "titleBaseline": "alphabetic", "titleFontSize": 29, "titleFontWeight": "normal", "titleColor": "#000000"}},
      "y2": {"field": "y1"},
      "fill": {"value": {"expr": "datum.group === 'Group 1' ? g1[datum.count] : g2[datum.count]"}}
     }
    }
   ]
  }
 ]
}
